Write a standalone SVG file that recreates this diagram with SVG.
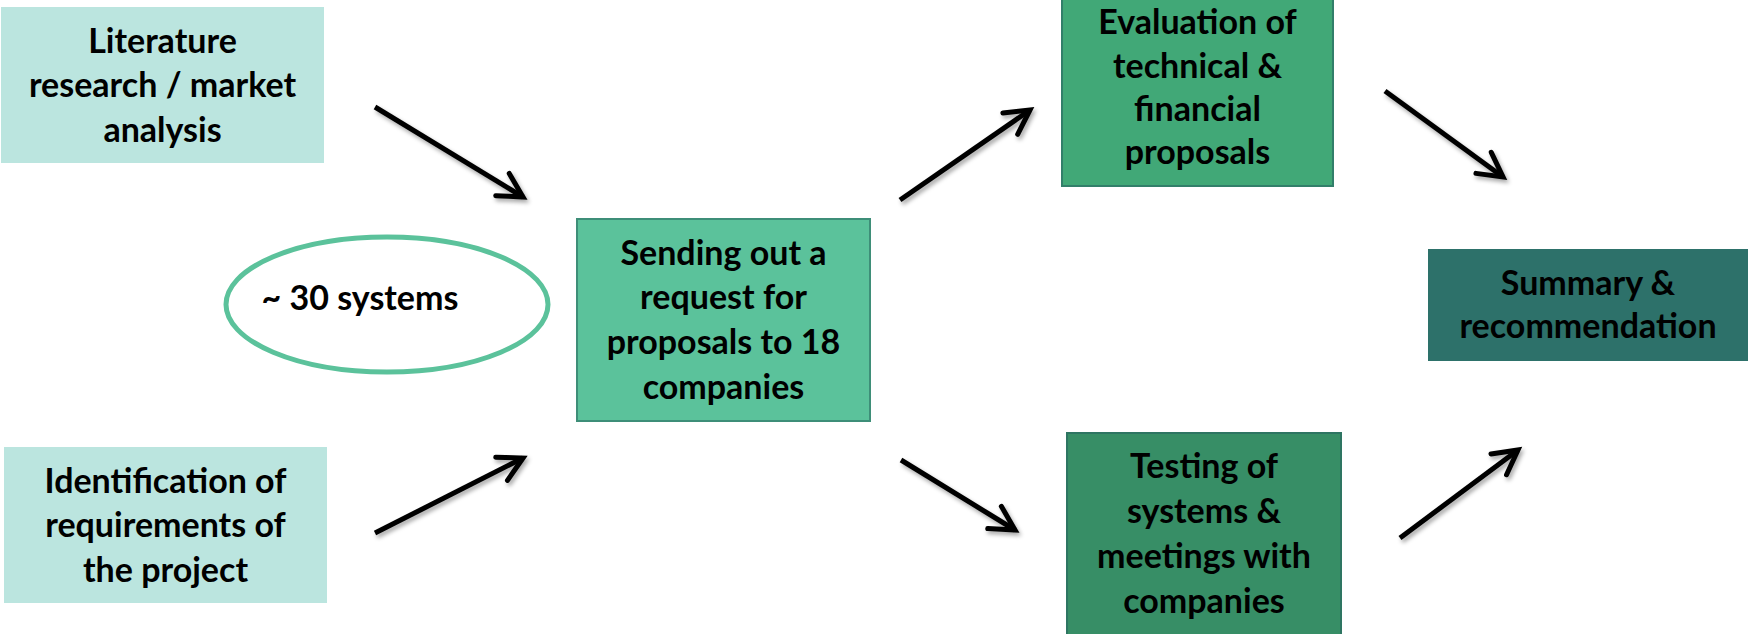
<svg xmlns="http://www.w3.org/2000/svg" width="1748" height="634" viewBox="0 0 1748 634">
<defs>
<style>
.t{font-family:Lato,"Liberation Sans",sans-serif;font-weight:bold;font-size:34px;fill:#000;text-anchor:middle}
.light{fill:#BBE5DF}
.arrow{stroke:#000;stroke-width:5;fill:none;marker-end:url(#head)}
</style>
<marker id="head" markerUnits="userSpaceOnUse" orient="auto" refX="0" refY="0" markerWidth="40" markerHeight="40" overflow="visible">
<path d="M-24,-13 L0,0 L-24,13" fill="none" stroke="#000" stroke-width="5" stroke-linejoin="miter" stroke-linecap="round"/>
</marker>
<filter id="sh" x="-20%" y="-20%" width="140%" height="140%">
<feDropShadow dx="2" dy="3" stdDeviation="2" flood-color="#000" flood-opacity="0.35"/>
</filter>
</defs>
<rect width="1748" height="634" fill="#fff"/>

<g id="literature">
<rect class="light" x="1" y="7" width="323" height="156"/>
<text class="t" x="162.5" y="53">Literature</text>
<text class="t" x="162.5" y="97">research / market</text>
<text class="t" x="162.5" y="142">analysis</text>
</g>

<g id="identification">
<rect class="light" x="4" y="447" width="323" height="156"/>
<text class="t" x="165.5" y="493">Identification of</text>
<text class="t" x="165.5" y="537">requirements of</text>
<text class="t" x="165.5" y="582">the project</text>
</g>

<g id="systems">
<ellipse cx="387" cy="304.5" rx="161" ry="67.5" fill="#fff" stroke="#5BC29B" stroke-width="5"/>
<text class="t" x="360" y="310">~ 30 systems</text>
</g>

<g id="sending">
<rect x="577" y="219" width="293" height="202" fill="#5BC29B" stroke="#3E8E78" stroke-width="2"/>
<text class="t" x="723.5" y="265">Sending out a</text>
<text class="t" x="723.5" y="309">request for</text>
<text class="t" x="723.5" y="354">proposals to 18</text>
<text class="t" x="723.5" y="399">companies</text>
</g>

<g id="evaluation">
<rect x="1062" y="-10" width="271" height="196" fill="#41A877" stroke="#327F6A" stroke-width="2"/>
<text class="t" x="1197.5" y="34">Evaluation of</text>
<text class="t" x="1197.5" y="78">technical &amp;</text>
<text class="t" x="1197.5" y="121">financial</text>
<text class="t" x="1197.5" y="164">proposals</text>
</g>

<g id="testing">
<rect x="1067" y="433" width="274" height="212" fill="#378E66" stroke="#2E7562" stroke-width="2"/>
<text class="t" x="1204" y="478">Testing of</text>
<text class="t" x="1204" y="523">systems &amp;</text>
<text class="t" x="1204" y="568">meetings with</text>
<text class="t" x="1204" y="613">companies</text>
</g>

<g id="summary">
<rect x="1428" y="249" width="322" height="112" fill="#2D716A"/>
<text class="t" x="1588" y="295">Summary &amp;</text>
<text class="t" x="1588" y="338">recommendation</text>
</g>

<g id="connectors" filter="url(#sh)">
<line class="arrow" x1="375" y1="107" x2="523" y2="197"/>
<line class="arrow" x1="375" y1="533" x2="523" y2="458"/>
<line class="arrow" x1="900" y1="200" x2="1030" y2="110"/>
<line class="arrow" x1="901" y1="460" x2="1015" y2="530"/>
<line class="arrow" x1="1400" y1="538" x2="1518" y2="450"/>
<line class="arrow" x1="1385" y1="91" x2="1503" y2="177"/>
</g>
</svg>
